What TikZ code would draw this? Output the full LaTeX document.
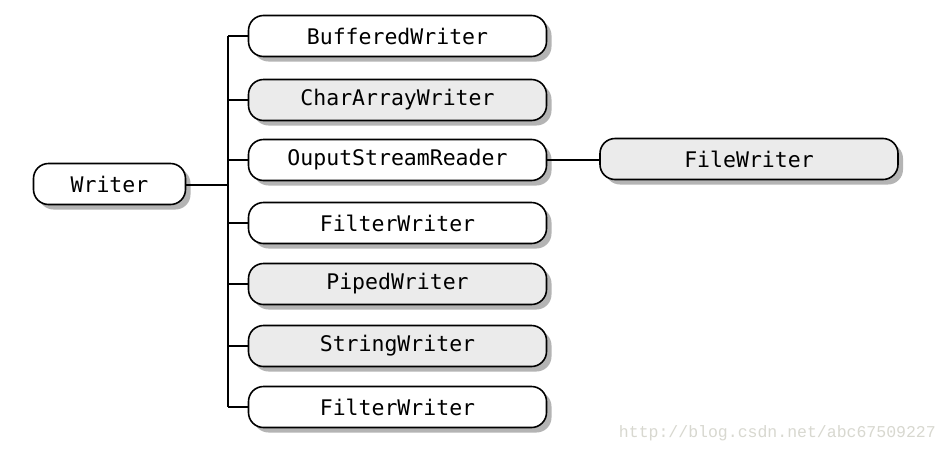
\documentclass[tikz,border=0pt]{standalone}
\usepackage{fontspec}
\setmonofont{DejaVu Sans Mono}
\newfontfamily\wmfont{Liberation Mono}
\definecolor{boxgray}{HTML}{EBEBEB}
\definecolor{shadowgray}{HTML}{B4B4B4}
\definecolor{wmgray}{HTML}{D8D8D0}
\usetikzlibrary{shadows}
\tikzset{
  pill/.style={draw=black, line width=1.6pt, rounded corners=15pt, minimum height=41pt,
    inner sep=0pt, font=\ttfamily\fontsize{21.5}{21.5}\selectfont,
    general shadow={fill=shadowgray, shadow xshift=5pt, shadow yshift=-5pt}},
  white pill/.style={pill, fill=white},
  gray pill/.style={pill, fill=boxgray},
  wide/.style={minimum width=298pt},
  conn/.style={line width=1.5pt, black}
}
\begin{document}
\begin{tikzpicture}[x=1pt,y=-1pt]
\useasboundingbox[fill=white] (0,0) rectangle (949,453);
\node[white pill, minimum width=152pt] (writer) at (109.5,184) {Writer};
\node[white pill, wide] (b1) at (397.5,36) {BufferedWriter};
\node[gray pill, wide] (b2) at (397.5,100) {CharArrayWriter};
\node[white pill, wide] (b3) at (397.5,160) {OuputStreamReader};
\node[white pill, wide] (b4) at (397.5,223) {FilterWriter};
\node[gray pill, wide] (b5) at (397.5,284) {PipedWriter};
\node[gray pill, wide] (b6) at (397.5,346) {StringWriter};
\node[white pill, wide] (b7) at (397.5,407) {FilterWriter};
\node[gray pill, wide] (fw) at (749,159) {FileWriter};
\coordinate (top) at (228,36);
\coordinate (bot) at (228,407);
\coordinate (mid) at (228,185);
\draw[conn] (top) -- (bot);
\draw[conn] (writer.east |- mid) -- (mid);
\foreach \b in {b1,b2,b3,b4,b5,b6,b7} {
  \draw[conn] (\b.west) -- (\b.west -| mid);
}
\draw[conn] (b3.east) -- (b3.east -| fw.west);
\node[font=\wmfont\fontsize{16.5}{16.5}\selectfont, text=wmgray, anchor=east, inner sep=0pt] (wm) at (936,433) {http://blog.csdn.net/abc67509227};
\end{tikzpicture}
\end{document}
